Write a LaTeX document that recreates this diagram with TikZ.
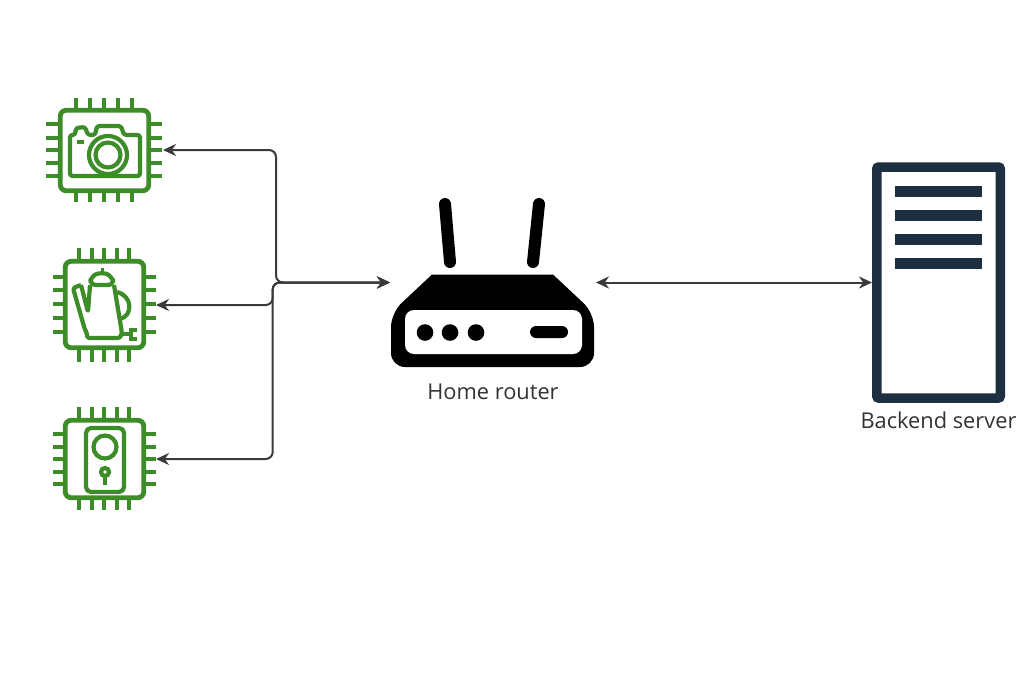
\documentclass[tikz,border=0pt]{standalone}
\usepackage{fontspec}
\setmainfont{Open Sans}
\usetikzlibrary{arrows.meta, positioning}
\usepackage{xcolor}
\definecolor{chipgreen}{HTML}{3C8C28}
\definecolor{servernavy}{HTML}{1F2F42}
\definecolor{linkgrey}{HTML}{3A3A3A}
\definecolor{labelgrey}{HTML}{333333}

\begin{document}
\begin{tikzpicture}[x=1pt, y=-1pt]
            \tikzstyle{chipbody} = [rectangle, draw=chipgreen, line width=4.8pt, rounded corners=6pt, inner sep=0pt]
            \tikzstyle{chiparea} = [rectangle, inner sep=0pt, outer sep=0pt]
            \tikzstyle{pin} = [draw=chipgreen, line width=4.5pt]
            \tikzstyle{icon} = [draw=chipgreen, line width=4.2pt, line join=round, rounded corners=2.5pt]
            \tikzstyle{link} = [draw=linkgrey, line width=2pt, rounded corners=7pt, {Stealth[length=13pt,width=12pt]}-{Stealth[length=13pt,width=12pt]}]
            \tikzstyle{caption} = [text=labelgrey, font=\fontsize{21.8}{25}\selectfont, inner sep=0pt]
            \useasboundingbox [fill=white] (0,0) rectangle (1024,683);

            % camera chip
            \node [chipbody, minimum width=88.5pt, minimum height=80.5pt] (camerabody) at (104.5,150.5) {};
            \node [chiparea, minimum width=117pt, minimum height=104pt] (camera) at (104.5,150) {};
            \foreach \px in {76,90,104,118,132} {
                \draw [pin] (\px,98) -- (\px,108);
                \draw [pin] (\px,193) -- (\px,202);
            }
            \foreach \py in {124,138,150,163,176} {
                \draw [pin] (46,\py) -- (58,\py);
                \draw [pin] (151,\py) -- (162,\py);
            }
            \draw [icon] (70,176) -- (70,135) -- (75,135) -- (76,128) -- (85,127) -- (88,135) -- (95,135) -- (97,126) -- (121,126) -- (124,135) -- (140,135) -- (140,176) -- cycle;
            \draw [icon] (77,142) -- (84,142);
            \draw [draw=chipgreen, fill=white, line width=4.2pt] (108,155) circle (19);
            \draw [draw=chipgreen, line width=4.2pt] (108,155) circle (12.5);

            % kettle chip
            \node [chipbody, minimum width=78.5pt, minimum height=86.5pt] (kettlebody) at (104.5,304.5) {};
            \node [chiparea, minimum width=103pt, minimum height=114pt] (kettle) at (104.5,305) {};
            \foreach \px in {79,92,104,117,129} {
                \draw [pin] (\px,248) -- (\px,259);
                \draw [pin] (\px,350) -- (\px,362);
            }
            \foreach \py in {277,290,304,318,332} {
                \draw [pin] (53,\py) -- (63,\py);
                \draw [pin] (146,\py) -- (156,\py);
            }
            \draw [icon] (81,285) -- (73,288) -- (85,330) -- (87,333) -- (87,338) -- (120,338) -- (122,333) -- (114,285);
            \draw [icon] (90,285) -- (88,312) -- (81,285);
            \draw [icon, rounded corners=6pt] (90,285) -- (91,276) -- (102,272) -- (112,276) -- (114,285) -- cycle;
            \draw [icon, line width=3pt] (102,272) -- (102,268);
            \draw [draw=chipgreen, line width=4.2pt] (117,292) .. controls (133,296) and (133,316) .. (120,319);
            \draw [draw=chipgreen, line width=4.2pt] (122,334) -- (131,334) (137,330) -- (131,330) -- (131,339) -- (137,339);

            % doorbell chip
            \node [chipbody, minimum width=78.5pt, minimum height=77.5pt] (bellbody) at (104.5,459) {};
            \node [chiparea, minimum width=103pt, minimum height=104pt] (bell) at (104.5,459) {};
            \foreach \px in {79,92,104,117,129} {
                \draw [pin] (\px,407) -- (\px,418);
                \draw [pin] (\px,500) -- (\px,510);
            }
            \foreach \py in {434,447,459,472,484} {
                \draw [pin] (53,\py) -- (63,\py);
                \draw [pin] (146,\py) -- (156,\py);
            }
            \draw [icon, rounded corners=5pt] (86,428) rectangle (124,492);
            \draw [draw=chipgreen, line width=4.2pt] (105,447) circle (11.5);
            \draw [draw=chipgreen, line width=4.2pt] (105,472) circle (4);
            \draw [draw=chipgreen, line width=4.2pt] (105,476) -- (105,485);

            % router
            \node [chiparea, minimum width=206pt, minimum height=169pt] (router) at (493,282.5) {};
            \draw [line width=12pt, line cap=round] (445,204) -- (450,262);
            \draw [line width=12pt, line cap=round] (539,204) -- (533,262);
            \fill (432,274.5) -- (553,274.5) [rounded corners=14pt] -- (594,313) -- (594,367) -- (391,367) -- (391,313) [sharp corners] -- cycle;
            \fill [white, rounded corners=9pt] (405,310) rectangle (582,354);
            \foreach \px in {425,450,476} {
                \fill (\px,332.5) circle (8.3);
            }
            \fill [rounded corners=6pt] (530,326) rectangle (568,338);
            \node [caption, below=17pt of router] (routerlabel) {Home router};

            % server
            \node [rectangle, draw=servernavy, line width=9.5pt, rounded corners=2pt, inner sep=0pt, minimum width=123.5pt, minimum height=231pt] (server) at (938.5,282.5) {};
            \foreach \py in {186,210,234,258} {
                \fill [servernavy] (895,\py) rectangle (982,\py+11);
            }
            \node [caption, below=9pt of server] (serverlabel) {Backend server};

            % junctions
            \coordinate (hubtop) at (276,282.5);
            \coordinate (hubbottom) at (272.7,282.5);

            \path [link] (camera.east) -| (hubtop) -- (router.west);
            \path [link] (kettle.east) -| (hubbottom) -- (router.west);
            \path [link] (bell.east) -| (hubbottom) -- (router.west);
            \path [link] (router.east) -- (server.west);
        \end{tikzpicture}
\end{document}
